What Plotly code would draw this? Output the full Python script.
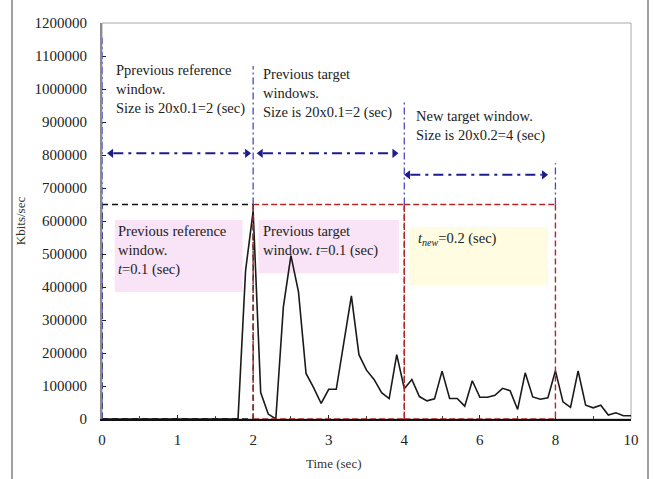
import plotly.graph_objects as go

# Sample times: 0.1 s steps up to 4 s, then 0.2 s steps up to 10 s
time_s = [0.0, 0.1, 0.2, 0.3, 0.4, 0.5, 0.6, 0.7, 0.8, 0.9,
          1.0, 1.1, 1.2, 1.3, 1.4, 1.5, 1.6, 1.7, 1.8, 1.9,
          2.0, 2.1, 2.2, 2.3, 2.4, 2.5, 2.6, 2.7, 2.8, 2.9,
          3.0, 3.1, 3.2, 3.3, 3.4, 3.5, 3.6, 3.7, 3.8, 3.9, 4.0,
          4.2, 4.4, 4.6, 4.8, 5.0, 5.2, 5.4, 5.6, 5.8, 6.0,
          6.2, 6.4, 6.6, 6.8, 7.0, 7.2, 7.4, 7.6, 7.8, 8.0,
          8.2, 8.4, 8.6, 8.8, 9.0, 9.2, 9.4, 9.6, 9.8, 10.0]

# Bit rate in Kbits/sec
kbits = [0, 0, 0, 0, 0, 0, 0, 0, 0, 0,
         0, 0, 0, 0, 0, 0, 0, 0, 0, 450000,
         630000, 80000, 15000, 0, 340000, 495000, 385000, 138000, 95000, 47000,
         90000, 90000, 230000, 373000, 195000, 148000, 120000, 80000, 62000, 195000, 92000,
         120000, 68000, 55000, 61000, 145000, 62000, 62000, 39000, 116000, 66000,
         66000, 72000, 93000, 86000, 29000, 140000, 67000, 60000, 64000, 146000,
         52000, 35000, 146000, 42000, 34000, 42000, 12000, 19000, 10000, 10000]

tick_times = [0, 1, 2, 3, 4, 6, 8, 10]
tick_labels = ["0", "1", "2", "3", "4", "6", "8", "10"]

# Window boundaries (sec) and the level of the dashed window boxes
ref_window = (0, 2)
prev_target_window = (2, 4)
new_target_window = (4, 8)
box_level = 650000


def axis_pos(t):
    # every sample gets the same horizontal spacing, so the 0.2 s part is compressed
    return t if t <= 4 else 4 + (t - 4) / 2


xs = [axis_pos(t) for t in time_s]

serif = "Liberation Serif"
navy = "#1c1c8c"
blue = "#4a4ac0"
red = "#b02828"

fig = go.Figure()
fig.add_trace(go.Scatter(x=xs, y=kbits, mode="lines",
                         line=dict(color="#1a1a1a", width=1.6),
                         hoverinfo="skip", showlegend=False))

shapes = []

# shaded text backgrounds
for (x0, x1, y0, y1, col) in [(0.17, 1.86, 385000, 603000, "#f9e3f6"),
                              (2.07, 3.93, 442000, 603000, "#f9e3f6"),
                              (4.06, 5.90, 406000, 582000, "#fffce2")]:
    shapes.append(dict(type="rect", xref="x", yref="y", x0=x0, x1=x1, y0=y0, y1=y1,
                       fillcolor=col, line=dict(width=0), layer="below"))

# plot frame
shapes.append(dict(type="rect", xref="paper", yref="paper", x0=0, x1=1, y0=0, y1=1,
                   line=dict(color="#a8a8a8", width=1), layer="below"))

# outer figure borders
for px in (12, 648):
    xp = (px - 102) / 529
    shapes.append(dict(type="line", xref="paper", yref="paper", x0=xp, x1=xp,
                       y0=-0.16, y1=1.07, line=dict(color="#a0a0a0", width=2)))

# dashed window boxes
def box(t0, t1, color, dash):
    a, b = axis_pos(t0), axis_pos(t1)
    segs = [(a, 0, a, box_level), (a, box_level, b, box_level),
            (b, box_level, b, 0), (a, 0, b, 0)]
    for (x0, y0, x1, y1) in segs:
        shapes.append(dict(type="line", xref="x", yref="y", x0=x0, y0=y0, x1=x1, y1=y1,
                           line=dict(color=color, width=1.4, dash=dash)))

box(*ref_window, "#111111", "6px,4px")
box(*prev_target_window, red, "6px,3px")
box(*new_target_window, red, "6px,3px")

# dash-dot window markers
for (t, top) in [(0, 1155000), (2, 1070000), (4, 960000), (8, 775000)]:
    bottom = 0 if t == 0 else box_level
    shapes.append(dict(type="line", xref="x", yref="y", x0=axis_pos(t), x1=axis_pos(t),
                       y0=bottom, y1=top,
                       line=dict(color=blue, width=1.3, dash="7px,3px,2px,3px")))

# window size arrows: dash-dot shaft plus triangular heads
arrows = [(0.07, 1.97, 805000), (2.05, 3.92, 805000), (4.0, 5.9, 740000)]
head_x, head_y, head_sym = [], [], []
for (x0, x1, y) in arrows:
    shapes.append(dict(type="line", xref="x", yref="y", x0=x0 + 0.08, x1=x1 - 0.08, y0=y, y1=y,
                       line=dict(color=navy, width=2, dash="10px,5px,3px,5px")))
    head_x += [x0 + 0.05, x1 - 0.05]
    head_y += [y, y]
    head_sym += ["triangle-left", "triangle-right"]

fig.add_trace(go.Scatter(x=head_x, y=head_y, mode="markers",
                         marker=dict(symbol=head_sym, size=8, color=navy, line=dict(width=0)),
                         hoverinfo="skip", showlegend=False, cliponaxis=False))

annotations = []
label_font = dict(family=serif, size=14.5, color="#222222")
texts = [
    (0.16, 1000000, "Pprevious reference<br>window.<br>Size is 20x0.1=2 (sec)"),
    (2.11, 985000, "Previous target<br>windows.<br>Size is 20x0.1=2 (sec)"),
    (4.13, 889000, "New target window.<br>Size is 20x0.2=4 (sec)"),
    (0.19, 512000, "Previous reference<br>window.<br><i>t</i>=0.1 (sec)"),
    (2.11, 538000, "Previous target<br>window. <i>t</i>=0.1 (sec)"),
    (4.15, 545000, "<i>t<sub>new</sub></i>=0.2 (sec)"),
]
for (x, y, s) in texts:
    annotations.append(dict(x=x, y=y, xref="x", yref="y", text=s, showarrow=False,
                            xanchor="left", yanchor="middle", align="left",
                            font=label_font))

annotations.append(dict(x=(334 - 102) / 529, y=(419 - 473) / 396, xref="paper", yref="paper",
                        text="Time (sec)", showarrow=False,
                        font=dict(family=serif, size=13, color="#333333")))

fig.update_layout(
    width=657, height=479,
    margin=dict(l=102, r=26, t=23, b=60),
    paper_bgcolor="white", plot_bgcolor="white",
    shapes=shapes, annotations=annotations,
    showlegend=False,
    xaxis=dict(range=[0, 7], tickvals=[axis_pos(t) for t in tick_times],
               ticktext=tick_labels, ticks="inside", ticklen=4, tickcolor="#222",
               showgrid=False, zeroline=False, showline=True, linecolor="#111", linewidth=1.5,
               minor=dict(tickvals=[0.5, 1.5, 2.5, 3.5, 4.5, 5.5, 6.5], ticks="inside",
                          ticklen=3, tickcolor="#444"),
               tickfont=dict(family=serif, size=15, color="#222"), ticklabelstandoff=6),
    yaxis=dict(range=[0, 1200000], dtick=100000, tickformat="d",
               ticks="inside", ticklen=4, tickcolor="#222",
               showgrid=False, zeroline=False, showline=True, linecolor="#8a8a8a", linewidth=2,
               title=dict(text="Kbits/sec", standoff=6,
                          font=dict(family=serif, size=13, color="#333333")),
               tickfont=dict(family=serif, size=15, color="#222"), ticklabelstandoff=10),
)

fig.write_html("out.html")
